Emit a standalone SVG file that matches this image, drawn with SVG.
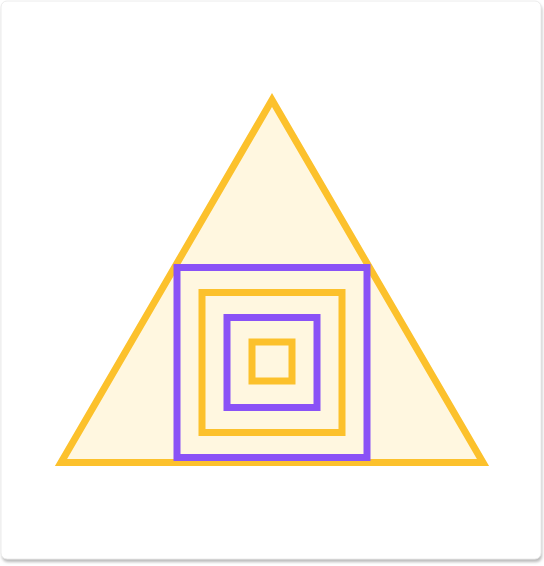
<svg xmlns="http://www.w3.org/2000/svg" width="544" height="566" viewBox="0 0 544 566">
  <defs>
    <filter id="sh" x="-5%" y="-5%" width="110%" height="110%">
      <feGaussianBlur stdDeviation="1.5"/>
    </filter>
  </defs>
  <style>
    .y { fill: none; stroke: #FCC12C; stroke-width: 7; stroke-linejoin: miter; }
    .p { fill: none; stroke: #8A52F6; stroke-width: 7; stroke-linejoin: miter; }
  </style>
  <rect x="0" y="0" width="544" height="566" fill="#ffffff"/>
  <g id="card">
    <rect x="2" y="4" width="540" height="558" rx="6" fill="#b8b8b8" filter="url(#sh)"/>
    <rect x="1" y="1" width="540" height="558" rx="6" fill="#ffffff" stroke="#ececec" stroke-width="1"/>
  </g>
  <g id="triangle">
    <polygon points="272,100 61,462.5 483,462.5" fill="#FFF7E0" class="y" style="fill:#FFF7E0"/>
  </g>
  <g id="square1">
    <rect x="177" y="267.5" width="190" height="190" class="p"/>
  </g>
  <g id="square2">
    <rect x="202" y="292.5" width="140" height="140" class="y"/>
  </g>
  <g id="square3">
    <rect x="227" y="317.5" width="90" height="90" class="p"/>
  </g>
  <g id="square4">
    <rect x="252" y="342" width="40" height="39" class="y"/>
  </g>
</svg>
